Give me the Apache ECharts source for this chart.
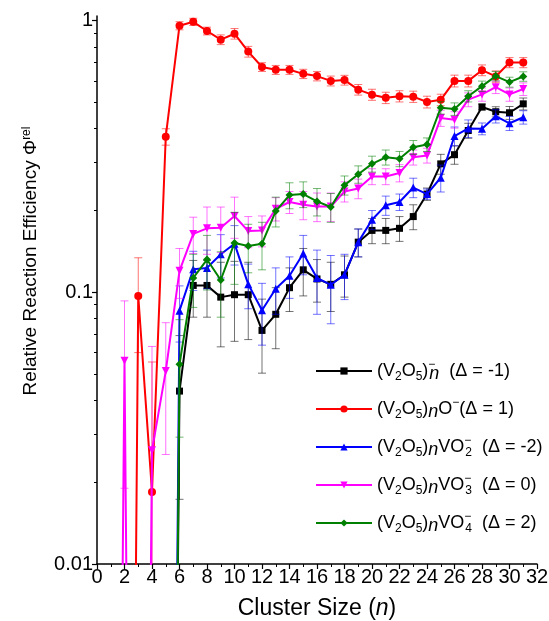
<!DOCTYPE html>
<html>
<head>
<meta charset="utf-8">
<script src="https://cdn.jsdelivr.net/npm/echarts@6/dist/echarts.min.js"></script>
<style>
html, body { margin: 0; padding: 0; background: #fff; }
#chart { width: 549px; height: 621px; }
</style>
</head>
<body>
<div id="chart"></div>
<script>
// cluster size n = 1 .. 31
let clusterSizes = []
for (let i = 1; i <= 31; i++) clusterSizes.push(i)

// 0.0000001 marks points that fall far below the axis (drawn as steep drops)
let anionVals = [null, null, null, null, 0.0000001, 0.0433, 0.106, 0.106, 0.096, 0.098, 0.098, 0.0724, 0.083, 0.104, 0.121, 0.112, 0.107, 0.116, 0.153, 0.169, 0.169, 0.172, 0.190, 0.230, 0.297, 0.321, 0.394, 0.481, 0.462, 0.458, 0.494]
let anionErr  = [0, 0, 0, 0, 0, 0.026, 0.025, 0.025, 0.033, 0.032, 0.031, 0.022, 0.021, 0.019, 0.024, 0.020, 0.022, 0.020, 0.018, 0.018, 0.018, 0.018, 0.020, 0.012, 0.025, 0.025, 0.025, 0.012, 0.020, 0.025, 0.025]

let oxideVals = [null, 0.0000001, 0.097, 0.0184, 0.374, 0.958, 0.99, 0.916, 0.851, 0.895, 0.769, 0.675, 0.659, 0.659, 0.637, 0.625, 0.600, 0.604, 0.557, 0.534, 0.520, 0.527, 0.525, 0.502, 0.511, 0.600, 0.600, 0.657, 0.623, 0.701, 0.701]
let oxideErr  = [0, 0, 0.037, 0.037, 0.026, 0.033, 0.030, 0.030, 0.035, 0.040, 0.035, 0.025, 0.025, 0.025, 0.025, 0.025, 0.025, 0.025, 0.025, 0.025, 0.025, 0.025, 0.025, 0.025, 0.025, 0.030, 0.030, 0.030, 0.030, 0.030, 0.030]

let vo2Vals = [null, null, null, null, 0.0000001, 0.0856, 0.1216, 0.123, 0.138, 0.151, 0.107, 0.0859, 0.103, 0.115, 0.139, 0.113, 0.1066, 0.116, 0.153, 0.185, 0.209, 0.215, 0.243, 0.230, 0.264, 0.376, 0.401, 0.400, 0.445, 0.419, 0.441]
let vo2Err  = [0, 0, 0, 0, 0, 0.020, 0.020, 0.020, 0.025, 0.025, 0.020, 0.022, 0.020, 0.020, 0.023, 0.030, 0.030, 0.022, 0.018, 0.015, 0.017, 0.015, 0.020, 0.010, 0.030, 0.030, 0.030, 0.020, 0.025, 0.025, 0.025]

let vo3Vals = [0.0000001, 0.056, 0.0000001, 0.0262, 0.0513, 0.120, 0.164, 0.172, 0.173, 0.191, 0.168, 0.169, 0.203, 0.215, 0.210, 0.207, 0.207, 0.235, 0.241, 0.267, 0.267, 0.275, 0.314, 0.319, 0.438, 0.432, 0.512, 0.535, 0.569, 0.535, 0.560]
let vo3Err  = [0, 0.037, 0, 0.037, 0.026, 0.025, 0.025, 0.034, 0.033, 0.033, 0.022, 0.022, 0.020, 0.020, 0.025, 0.025, 0.025, 0.020, 0.020, 0.018, 0.018, 0.020, 0.020, 0.020, 0.030, 0.030, 0.030, 0.030, 0.030, 0.030, 0.030]

let vo4Vals = [null, null, null, null, 0.0000001, 0.0543, 0.113, 0.132, 0.111, 0.152, 0.148, 0.151, 0.199, 0.228, 0.230, 0.216, 0.206, 0.248, 0.272, 0.297, 0.314, 0.310, 0.342, 0.350, 0.478, 0.473, 0.527, 0.574, 0.625, 0.594, 0.623]
let vo4Err  = [0, 0, 0, 0, 0, 0.025, 0.025, 0.030, 0.030, 0.045, 0.030, 0.030, 0.025, 0.025, 0.025, 0.025, 0.025, 0.020, 0.020, 0.020, 0.020, 0.020, 0.020, 0.020, 0.025, 0.025, 0.025, 0.025, 0.025, 0.025, 0.025]

let seriesNames = ['(V2O5)n-', '(V2O5)nO-', '(V2O5)nVO2-', '(V2O5)nVO3-', '(V2O5)nVO4-']
let legendLabels = [
	'(V{s|2}O{s|5}){z|−}{n|n}  (Δ = -1)',
	'(V{s|2}O{s|5}){n|n}O{p|−}(Δ = 1)',
	'(V{s|2}O{s|5}){n|n}VO{z|−}{s|2}  (Δ = -2)',
	'(V{s|2}O{s|5}){n|n}VO{z|−}{s|3}  (Δ = 0)',
	'(V{s|2}O{s|5}){n|n}VO{z|−}{s|4}  (Δ = 2)'
]
let yTicks = [0.01, 0.1, 1]
let yMinorTicks = [0.02, 0.03, 0.04, 0.05, 0.06, 0.07, 0.08, 0.09, 0.2, 0.3, 0.4, 0.5, 0.6, 0.7, 0.8, 0.9]

let allVals = [anionVals, oxideVals, vo2Vals, vo3Vals, vo4Vals]
let allErr = [anionErr, oxideErr, vo2Err, vo3Err, vo4Err]
let colors = ['#000000', '#ff0000', '#0000ff', '#ff00ff', '#008000']
let barColors = ['rgba(0,0,0,0.55)', 'rgba(255,0,0,0.55)', 'rgba(0,0,255,0.55)', 'rgba(255,0,255,0.55)', 'rgba(0,128,0,0.55)']
let symbols = ['rect', 'circle', 'triangle', 'triangle', 'diamond']
let symbolSizes = [7, 8, 8, 8, 8]
let symbolRotates = [0, 0, 0, 180, 0]

const FONT = '"Liberation Sans", Arial, sans-serif'

function renderErrorBar(params, api) {
	let n = api.value(0), v = api.value(1), e = api.value(2)
	let cs = params.coordSys
	let bottom = cs.y + cs.height
	let hi = api.coord([n, v + e])
	let lowClamped = v - e <= 0.01
	let lo = lowClamped ? [hi[0], bottom] : api.coord([n, v - e])
	let style = {stroke: api.visual('color'), lineWidth: 1}
	let children = [
		{type: 'line', shape: {x1: hi[0], y1: hi[1], x2: lo[0], y2: lo[1]}, style: style},
		{type: 'line', shape: {x1: hi[0] - 4, y1: hi[1], x2: hi[0] + 4, y2: hi[1]}, style: style}
	]
	if (!lowClamped) {
		children.push({type: 'line', shape: {x1: lo[0] - 4, y1: lo[1], x2: lo[0] + 4, y2: lo[1]}, style: style})
	}
	return {type: 'group', children: children}
}

let series = []
for (let i = 0; i < seriesNames.length; i++) {
	let barData = []
	for (let j = 0; j < clusterSizes.length; j++) {
		if (allVals[i][j] != null && allErr[i][j] > 0) {
			barData.push([clusterSizes[j], allVals[i][j], allErr[i][j]])
		}
	}
	series.push({
		name: seriesNames[i] + ' err',
		type: 'custom',
		renderItem: renderErrorBar,
		itemStyle: {color: barColors[i]},
		data: barData,
		clip: true,
		z: 2 + i * 2,
		silent: true
	})
	series.push({
		name: seriesNames[i],
		type: 'line',
		data: clusterSizes.map((n, j) => [n, allVals[i][j]]),
		symbol: symbols[i],
		symbolSize: symbolSizes[i],
		symbolRotate: symbolRotates[i],
		showAllSymbol: true,
		color: colors[i],
		lineStyle: {color: colors[i], width: 2},
		itemStyle: {color: colors[i]},
		clip: true,
		z: 3 + i * 2,
		animation: false
	})
}

let myChart = echarts.init(document.getElementById('chart'))

let option = {
	animation: false,
	backgroundColor: '#fff',
	grid: {left: 97, right: 12, top: 16, bottom: 57, outerBoundsMode: 'none', containLabel: false},
	legend: {
		data: seriesNames,
		orient: 'vertical',
		left: 315,
		top: 359,
		padding: 0,
		itemWidth: 56,
		itemHeight: 9,
		itemGap: 14,
		selectedMode: false,
		formatter: function (name) {
			return legendLabels[seriesNames.indexOf(name)]
		},
		textStyle: {
			fontFamily: FONT,
			fontSize: 18,
			color: '#000',
			lineHeight: 24,
			rich: {
				s: {fontFamily: FONT, fontSize: 12, lineHeight: 13, verticalAlign: 'bottom', color: '#000'},
				n: {fontFamily: FONT, fontSize: 18, fontStyle: 'italic', lineHeight: 18, verticalAlign: 'bottom', color: '#000'},
				p: {fontFamily: FONT, fontSize: 12, lineHeight: 13, verticalAlign: 'top', color: '#000'},
				z: {fontFamily: FONT, fontSize: 12, lineHeight: 13, verticalAlign: 'top', width: 1, color: '#000'}
			}
		}
	},
	xAxis: {
		type: 'value',
		min: 0,
		max: 32,
		interval: 2,
		name: 'Cluster Size ({i|n})',
		nameLocation: 'middle',
		nameGap: 33,
		nameTextStyle: {
			fontFamily: FONT, fontSize: 23, color: '#000',
			rich: {i: {fontFamily: FONT, fontSize: 23, fontStyle: 'italic', color: '#000'}}
		},
		axisLine: {lineStyle: {color: '#000', width: 1.5}},
		axisTick: {length: 5, lineStyle: {color: '#000', width: 1.2}},
		minorTick: {show: true, splitNumber: 2, length: 3, lineStyle: {color: '#000', width: 1}},
		splitLine: {show: false},
		axisLabel: {fontFamily: FONT, fontSize: 20, color: '#000', margin: 3}
	},
	yAxis: [{
		type: 'log',
		logBase: 10,
		min: 0.01,
		max: 1.04,
		name: 'Relative Reaction Efficiency Φ{p|rel}',
		nameLocation: 'middle',
		nameGap: 57,
		nameTextStyle: {
			fontFamily: FONT, fontSize: 19, color: '#000',
			padding: [0, 0, 0, 58],
			rich: {p: {fontFamily: FONT, fontSize: 12, verticalAlign: 'top', lineHeight: 12, color: '#000'}}
		},
		axisLine: {show: true, lineStyle: {color: '#000', width: 1.5}},
		axisTick: {show: true, length: 5, customValues: yTicks, lineStyle: {color: '#000', width: 1.2}},
		axisLabel: {
			fontFamily: FONT, fontSize: 20, color: '#000', margin: 4,
			customValues: yTicks,
			formatter: function (v) { return String(+v.toPrecision(3)) }
		},
		splitLine: {show: false}
	}, {
		type: 'log',
		logBase: 10,
		min: 0.01,
		max: 1.04,
		position: 'left',
		axisLine: {show: false},
		axisTick: {show: true, length: 3, customValues: yMinorTicks, lineStyle: {color: '#000', width: 1}},
		axisLabel: {show: false},
		splitLine: {show: false}
	}],
	series: series
}

myChart.setOption(option)
</script>
</body>
</html>
